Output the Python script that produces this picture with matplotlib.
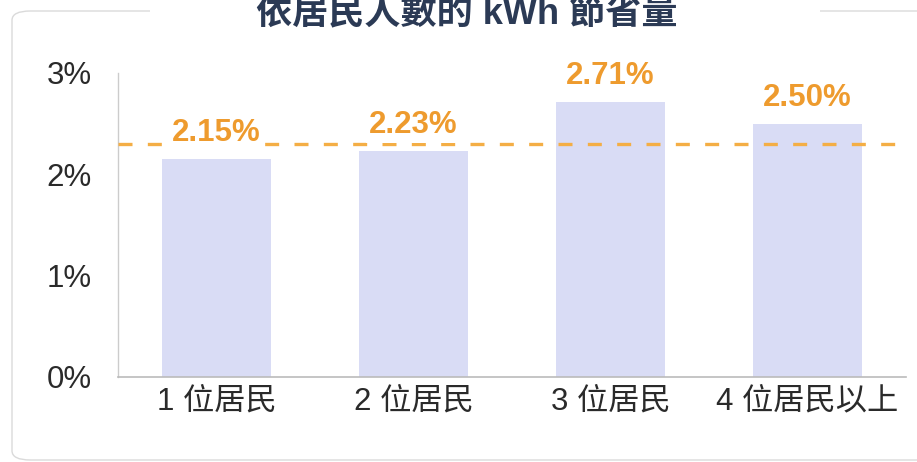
import matplotlib
matplotlib.use("Agg")
import matplotlib.pyplot as plt
from matplotlib.patches import FancyBboxPatch, Rectangle

plt.rcParams['font.family'] = ['Liberation Sans', 'Noto Sans CJK TC', 'DejaVu Sans']

# data
categories = ['1 位居民', '2 位居民', '3 位居民', '4 位居民以上']
savings = [2.15, 2.23, 2.71, 2.50]
label_texts = ['2.15%', '2.23%', '2.71%', '2.50%']
average_line = 2.30
y_ticks = [0, 1, 2, 3]
y_tick_labels = ['0%', '1%', '2%', '3%']
title = '依居民人數的 kWh 節省量'

bar_color = '#D9DCF5'
orange_text = '#EE9B2E'
orange_line = '#F4AE45'
navy = '#2B3A55'

W, H = 917, 462
fig = plt.figure(figsize=(W / 100, H / 100), dpi=100)
fig.patch.set_facecolor('white')

# light rounded frame around the whole card
frame = FancyBboxPatch((12 / W, 2 / H), 930 / W, 449 / H,
                       boxstyle='round,pad=0,rounding_size=0.02',
                       transform=fig.transFigure, fill=False,
                       edgecolor='#DADADA', linewidth=1.0)
fig.patches.append(frame)
# gap in the frame where the title sits
fig.patches.append(Rectangle((150 / W, 440 / H), 670 / W, 30 / H,
                             transform=fig.transFigure, facecolor='white',
                             edgecolor='none'))

ax = fig.add_axes([118 / W, 85 / H, 788 / W, 304 / H])
x = range(len(categories))
bars = ax.bar(x, savings, width=0.55, color=bar_color, zorder=2)

ax.axhline(average_line, color=orange_line, linewidth=2.4,
           linestyle=(0, (4.2, 4.6)), zorder=3)

for bar, txt in zip(bars, label_texts):
    ax.annotate(txt, (bar.get_x() + bar.get_width() / 2, bar.get_height()),
                xytext=(0, 8), textcoords='offset points',
                ha='center', va='bottom', fontsize=22.5, fontweight='bold',
                color=orange_text, zorder=4,
                bbox=dict(boxstyle='square,pad=0.1', facecolor='white',
                          edgecolor='none'))

ax.set_xlim(-0.5, 3.5)
ax.set_ylim(0, 3)
ax.set_yticks(y_ticks)
ax.set_yticklabels(y_tick_labels)
ax.set_xticks(list(x))
ax.set_xticklabels(categories)
ax.tick_params(axis='y', length=0, pad=19, labelsize=22.5, labelcolor='#2A2A2A')
ax.tick_params(axis='x', length=0, pad=7, labelsize=22.5, labelcolor='#2A2A2A')

for side in ['top', 'right']:
    ax.spines[side].set_visible(False)
ax.spines['left'].set_color('#CCCCCC')
ax.spines['bottom'].set_color('#BBBBBB')
ax.spines['left'].set_linewidth(1.0)
ax.spines['bottom'].set_linewidth(1.2)

fig.text(467 / W, 1 - 23 / H, title, ha='center', va='baseline',
         fontsize=26, fontweight='bold', color=navy,
         family=['Liberation Sans', 'Noto Sans CJK TC'])

fig.savefig('out.png', dpi=100)
